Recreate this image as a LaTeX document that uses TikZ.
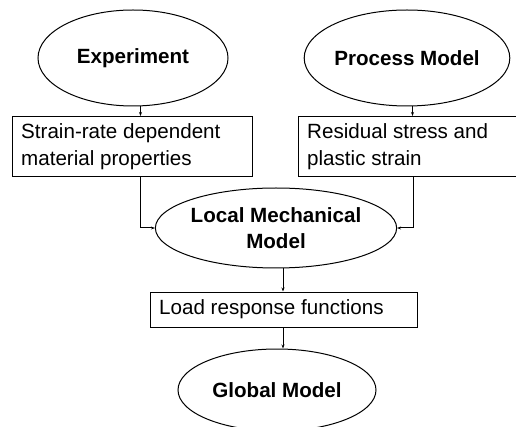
\documentclass[tikz,border=0pt]{standalone}
\usepackage{fontspec}
\setmainfont{Liberation Sans}
\usetikzlibrary{shapes.geometric,arrows.meta}
\begin{document}
\begin{tikzpicture}[x=1pt,y=-1pt,
  every node/.style={font=\fontsize{20.6}{27}\selectfont},
  oval/.style={draw,ellipse,line width=1pt,inner sep=0pt,font=\fontsize{20.6}{26}\selectfont\bfseries,align=center},
  rbox/.style={draw,line width=1pt,inner sep=0pt},
  conn/.style={line width=1pt,-{Stealth[length=4pt,width=3pt]}}]
\useasboundingbox (0,0) rectangle (516,427);
\begin{scope}
\clip (0,0) rectangle (516,427);
\node[oval,minimum width=190pt,minimum height=96pt] (exp) at (133,58) {Experiment};
\node[oval,minimum width=200pt,minimum height=96pt] (proc) at (407,58) {Process Model};
\node[rbox,minimum width=240pt,minimum height=60pt] (b1) at (132,146.5) {};
\node[anchor=west,align=left,inner sep=0pt] (t1) at (21,146.5) {Strain-rate dependent\\material properties};
\node[rbox,minimum width=222pt,minimum height=60pt] (b2) at (409,146.5) {};
\node[anchor=west,align=left,inner sep=0pt] (t2) at (307,146.5) {Residual stress and\\plastic strain};
\node[oval,minimum width=215pt,minimum height=80pt] (loc) at (276,228) {Local Mechanical\\Model};
\node[rbox,minimum width=267pt,minimum height=35pt] (b3) at (283.5,309.5) {};
\node[anchor=west,inner sep=0pt] (t3) at (159,309.5) {Load response functions};
\node[oval,minimum width=198pt,minimum height=82pt] (glob) at (277,390) {Global Model};
\end{scope}
\draw[conn] (exp.south -| 140.5,0) -- (b1.north -| 140.5,0);
\draw[conn] (proc.south -| 412.5,0) -- (b2.north -| 412.5,0);
\draw[conn] (b1.south -| 140.5,0) |- (loc.west);
\draw[conn] (b2.south -| 413,0) |- (loc.east);
\draw[conn] (loc.south -| 283,0) -- (b3.north -| 283,0);
\draw[conn] (b3.south -| 283,0) -- (glob.north -| 283,0);
\end{tikzpicture}
\end{document}
